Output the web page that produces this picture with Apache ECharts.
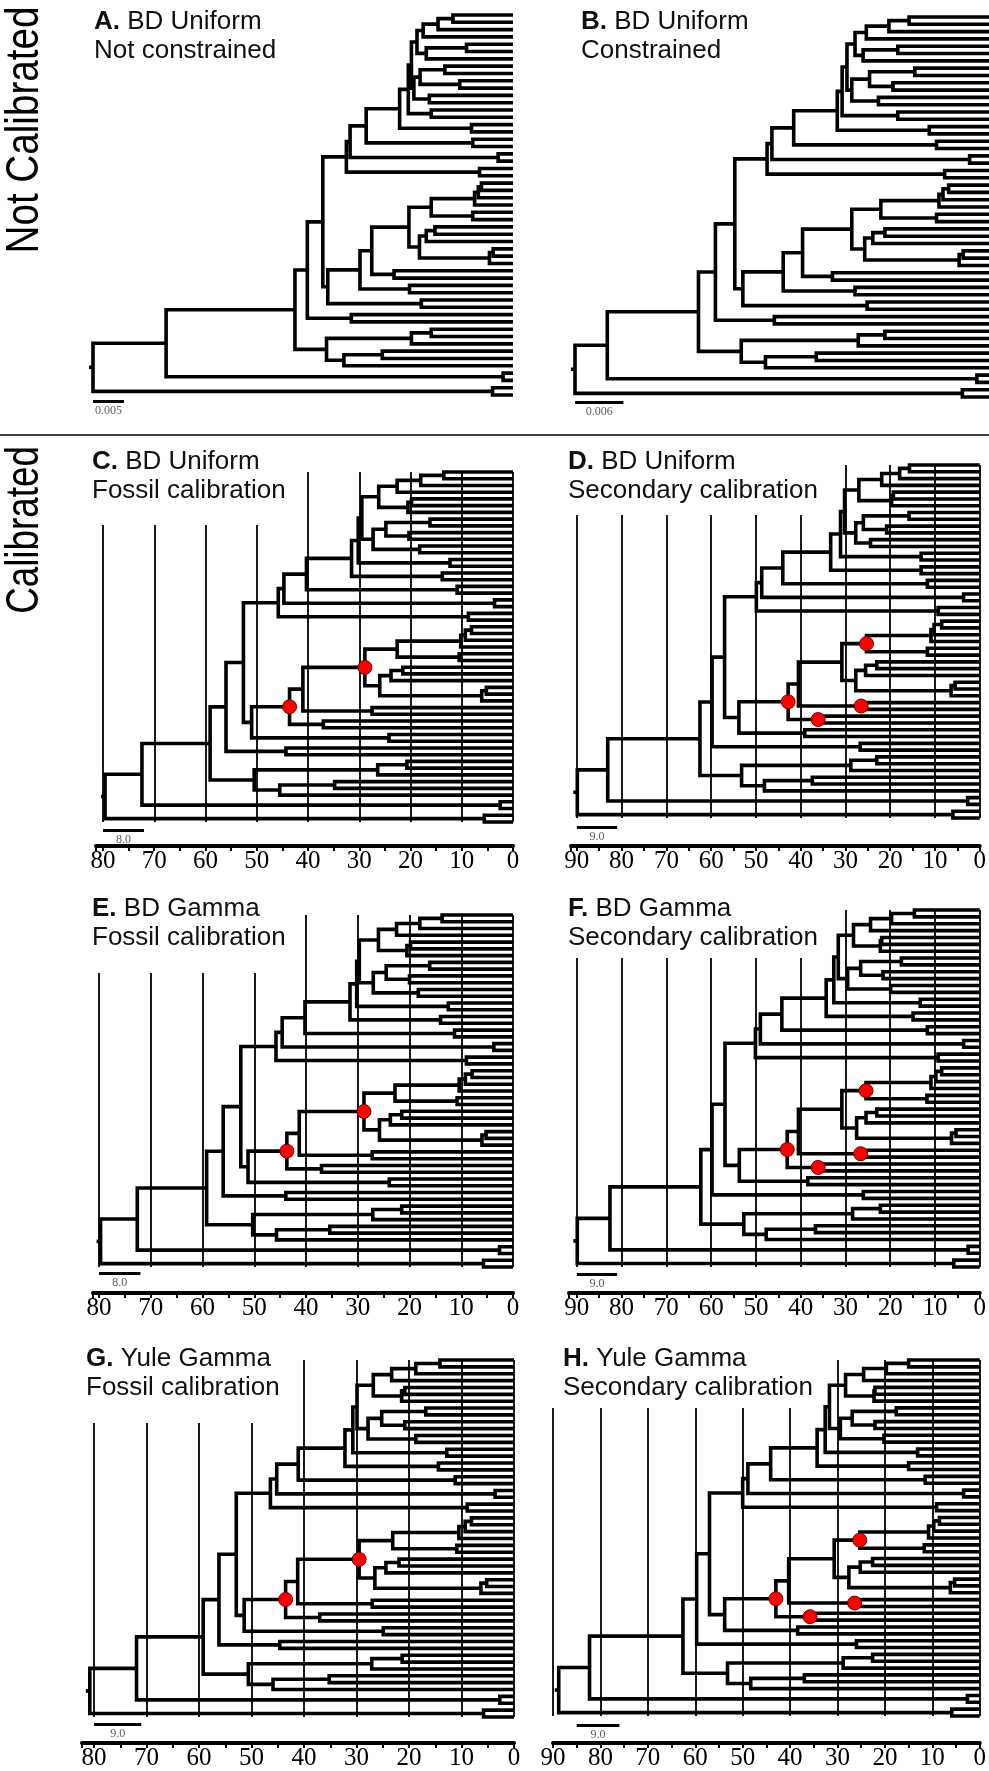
<!DOCTYPE html>
<html><head><meta charset="utf-8">
<script src="https://cdn.jsdelivr.net/npm/echarts@6/dist/echarts.min.js"></script>
<style>html,body{margin:0;padding:0;background:#fff}#c{width:989px;height:1771px}</style>
</head><body><div id="c"></div>
<script>
// ---------------- DATA ----------------
// Shared topology: internal node = children (top to bottom), '*' = tip
const topology = [
 'root=n72,n5p', 'n72=n59,n2p', 'n59=n56,n50', 'n56=n52,n44m', 'n52=n45a,n51',
 'n45a=n44a,n8p', 'n44a=n40,n3p', 'n40=n31,n10p', 'n31=n29t,n13u', 'n29t=n29b,n12t',
 'n29b=n26t,n27t', 'n26t=n22t,n20t', 'n22t=n17t,*', 'n17t=n13t,*', 'n13t=*,*',
 'n20t=n19t,*', 'n19t=*,*', 'n27t=n25t,n18t', 'n25t=n16t,n20b', 'n16t=*,*',
 'n20b=*,*', 'n18t=*,*', 'n12t=*,*', 'n13u=*,*', 'n10p=*,*',
 'n3p=*,*', 'n8p=*,*', 'n51=n43,n24m', 'n43=n41,n37m', 'n41=n29m,n27m',
 'n29m=n22m,n26m', 'n22m=n10m,n10q', 'n10m=n9m,*', 'n9m=n8m,*', 'n8m=*,*',
 'n10q=*,*', 'n26m=n23m,n6m', 'n23m=n21m,*', 'n21m=*,*', 'n6m=n5m,*',
 'n5m=*,*', 'n27m=*,*', 'n37m=*,*', 'n24m=*,*', 'n44m=*,*',
 'n50=n26b,n45b', 'n26b=n20b2,*', 'n20b2=*,*', 'n45b=n35b,*', 'n35b=*,*',
 'n2p=*,*', 'n5p=*,*'
];
// Node heights (same order as topology) — substitutions/site for A,B; Ma for C-H
const agesA = [0.0678,0.0560,0.0352,0.0332,0.0307,0.0269,0.0263,0.0237,0.0183,0.0169,
 0.0164,0.0155,0.0145,0.0121,0.0097,0.0140,0.0075,0.0160,0.0150,0.0110,
 0.0086,0.0135,0.0132,0.0067,0.0065,0.0024,0.0054,0.0299,0.0247,0.0228,
 0.0168,0.0132,0.0062,0.0056,0.0051,0.0065,0.0151,0.0140,0.0126,0.0038,
 0.0032,0.0192,0.0167,0.0148,0.0261,0.0301,0.0164,0.0132,0.0273,0.0211,0.0016,0.0033];
const agesB = [0.0513,0.0473,0.0360,0.0339,0.0315,0.0275,0.0269,0.0242,0.0188,0.0182,
 0.0176,0.0166,0.0152,0.0124,0.0099,0.0156,0.0113,0.0170,0.0148,0.0092,
 0.0119,0.0137,0.0113,0.0074,0.0065,0.0024,0.0055,0.0305,0.0255,0.0231,
 0.0170,0.0134,0.0062,0.0057,0.0050,0.0065,0.0154,0.0144,0.0129,0.0037,
 0.0032,0.0194,0.0166,0.0151,0.0266,0.0307,0.0162,0.0129,0.0277,0.0214,0.0015,0.0033];
const agesC = [79.6,72.4,59.1,56,52.6,45.8,44.7,40.3,31.5,30.2,29.5,26.2,22.6,18,13.5,20.5,19.8,27.3,24.8,16.2,
 20.3,18.2,12.3,13.8,10.9,3.6,8.7,51,43.6,41,28.9,22.6,10.2,9.3,8.1,10.5,26,23.8,21.5,6.1,
 5.2,27.5,37,24.2,44.3,50.5,26.4,20.7,45.5,34.8,2.5,5.6];
const agesD = [89.9,83.1,62.5,59.8,57,49.9,48.7,44,33.3,31.1,30.2,27,21.9,17.9,15.7,19.7,19.3,27.7,26,15.8,
 20.8,24.4,13.1,13.1,11.7,3.6,9.3,53.8,42.8,40.5,30.8,25.3,10.9,10.2,8.5,11.7,27.7,25.5,23,6.4,
 5.5,26.5,36.1,39.1,26.7,53.2,28.8,23,48.1,37.4,2.7,6];
const agesE = [79.7,72.6,59.2,56,52.6,45.8,44.6,40.2,31.5,30.2,29.7,26,22.5,18,13.7,20.5,19.8,27,24.5,16.1,
 20,18.3,12.5,14,11.3,3.7,9,51.2,43.7,41.3,28.8,22.8,10.4,9.2,7.9,10.8,25.8,23.7,21.5,6,
 5.2,27.2,37,23.9,43.9,50.3,27.1,21.5,45.7,35.4,2.6,5.7];
const agesF = [89.9,82.6,62.3,59.8,56.9,50.1,49,44.2,34.3,32.6,31.6,28.2,24.4,19.7,14.6,22.2,21.9,29.5,26.6,17.5,
 21.6,19.9,13.3,14.9,11.7,3.6,9.3,53.7,43,40.5,30.8,25.4,10.9,9.8,8.5,11.8,27.5,25.4,23,6.3,
 5.3,26.6,36.1,38.4,26,52.7,28.4,22.2,47.7,36.7,2.6,5.8];
const agesG = [80.8,71.9,59.2,56.2,52.9,46.4,45.2,41.1,32.2,30.7,29.9,26.8,23.3,18.7,14.1,21.4,20.8,27.8,25.2,16.8,
 20.8,18.7,12.8,14.4,11.2,3.6,8.9,51.4,43.5,41.2,29.5,23.1,10.5,9.3,8.1,10.9,26.5,24.4,21.9,6.3,
 5.2,27,37,24.9,44.6,50.6,27.1,21.3,45.9,35.2,2.7,5.8];
const agesH = [88.8,82.3,62.6,59.7,57,50,48.9,44.1,34.3,32.6,31.7,28.3,24.5,19.7,15,22.3,22.1,29.4,26.9,17.6,
 22.1,20.2,13.1,15,11.5,3.4,9.1,53.8,43,40.3,30.7,25.3,10.8,9.7,8.5,11.7,27.6,25.2,22.6,6.2,
 5.3,26.4,35.8,38.4,26,53.2,28.8,22.6,48.3,37,2.6,5.9];
// Calibrated nodes (red dots)
const dotsFossil = ['n43','n29m'];
const dotsSecondary = ['n43','n37m','n27m','n22m'];
// Panel texts
const panelLetters = ['A','B','C','D','E','F','G','H'];
const panelModels = ['BD Uniform','BD Uniform','BD Uniform','BD Uniform','BD Gamma','BD Gamma','Yule Gamma','Yule Gamma'];
const panelSubtitles = ['Not constrained','Constrained','Fossil calibration','Secondary calibration',
  'Fossil calibration','Secondary calibration','Fossil calibration','Secondary calibration'];
// Scale bars
const scaleBarLengths = [0.005,0.006,8,9,8,9,9,9];
const scaleBarLabels = ['0.005','0.006','8.0','9.0','8.0','9.0','9.0','9.0'];
// Time-axis ticks (Ma)
const ticks80 = [0,10,20,30,40,50,60,70,80];
const ticks90 = [0,10,20,30,40,50,60,70,80,90];
const rowLabels = ['Not Calibrated','Calibrated'];

// ---------------- LAYOUT ----------------
const panels = [
 {ages:agesA, dots:[], ticks:null, x0:513, left:85, pxPer:420/0.0678, top:15, bot:395, base:425, scaleFrom:0.0678, scaleY:401, tx:94, ty:7},
 {ages:agesB, dots:[], ticks:null, x0:989, left:565, pxPer:414/0.0513, top:17, bot:397, base:425, scaleFrom:0.0513, scaleY:402, tx:581, ty:7},
 {ages:agesC, dots:dotsFossil, ticks:ticks80, x0:513, left:96, pxPer:5.125, top:472, bot:822, base:846, scaleFrom:80, scaleY:830, tx:92, ty:447, oldMin:50, oldTop:525},
 {ages:agesD, dots:dotsSecondary, ticks:ticks90, x0:988, left:571, pxPer:4.567, top:465, bot:818, base:846, scaleFrom:90, scaleY:827, tx:568, ty:447, oldMin:40, oldTop:515},
 {ages:agesE, dots:dotsFossil, ticks:ticks80, x0:513, left:93, pxPer:5.175, top:915, bot:1267, base:1293, scaleFrom:80, scaleY:1273, tx:92, ty:894, oldMin:50, oldTop:973},
 {ages:agesF, dots:dotsSecondary, ticks:ticks90, x0:988, left:569, pxPer:4.567, top:910, bot:1267, base:1293, scaleFrom:90, scaleY:1274, tx:568, ty:894, oldMin:40, oldTop:958},
 {ages:agesG, dots:dotsFossil, ticks:ticks80, x0:514, left:82, pxPer:5.25, top:1360, bot:1717, base:1743, scaleFrom:80, scaleY:1724, tx:86, ty:1344, oldMin:50, oldTop:1423},
 {ages:agesH, dots:dotsSecondary, ticks:ticks90, x0:988, left:553, pxPer:4.833, top:1360, bot:1716, base:1743, scaleFrom:85, scaleY:1725, tx:563, ty:1344, oldMin:40, oldTop:1408}
];

// ---------------- TREE BUILD ----------------
const kids = {}, nodeIndex = {};
topology.forEach((s, i) => { const [n, c] = s.split('='); kids[n] = c.split(','); nodeIndex[n] = i; });
let tipCount = 0;
const nodeY = {}; const internals = [];
function walk(name) {
  const ch = kids[name].map(c => c === '*' ? {tip: true, y: tipCount++} : {tip: false, name: c, y: walk(c)});
  const y = (ch[0].y + ch[ch.length - 1].y) / 2;
  nodeY[name] = y;
  internals.push({name, ch});
  return y;
}
walk('root');
const N = tipCount;

const SANS = '"Liberation Sans", Arial, Helvetica, sans-serif';
const SERIF = '"Liberation Serif", "Times New Roman", serif';
const grids = [], xAxes = [], yAxes = [], series = [], titles = [];

panels.forEach((p, i) => {
  const ageOf = n => p.ages[nodeIndex[n]];
  const yPer = (N - 1) / (p.bot - p.top);
  const yAt = px => (px - p.top) * yPer;
  const xmax = (p.x0 - p.left) / p.pxPer;
  const cal = !!p.ticks;
  grids.push({left: p.left, top: p.top, width: p.x0 - p.left, height: p.base - p.top, containLabel: false});
  xAxes.push({
    gridIndex: i, type: 'value', inverse: true, min: 0, max: xmax, show: cal,
    interval: 10, splitLine: {show: false},
    axisLine: {show: true, onZero: false, lineStyle: {color: '#000', width: 4}},
    axisTick: {show: true, length: 5, lineStyle: {color: '#000', width: 2}},
    minorTick: {show: true, splitNumber: 2, length: 5, lineStyle: {color: '#000', width: 2}},
    axisLabel: {show: true, margin: 3, color: '#000', fontFamily: SERIF, fontSize: 25, showMaxLabel: false,
      formatter: v => (cal && p.ticks.indexOf(Math.round(v)) >= 0 && Math.abs(v - Math.round(v)) < 1e-6) ? String(Math.round(v)) : ''}
  });
  yAxes.push({gridIndex: i, type: 'value', inverse: true, min: 0, max: (p.base - p.top) * yPer, show: false});

  // gridlines
  if (cal) {
    const gl = p.ticks.map(a => {
      const topPx = (a === 0) ? p.top : (a >= p.oldMin ? p.oldTop : p.top);
      return {coords: [[a, yAt(topPx)], [a, N - 1]]};
    });
    series.push({type: 'lines', coordinateSystem: 'cartesian2d', xAxisIndex: i, yAxisIndex: i, silent: true, clip: false,
      lineStyle: {color: '#000', width: 1.8, opacity: 1, curveness: 0}, data: gl, z: 1});
  }
  // tree branches
  const segs = [];
  internals.forEach(nd => {
    const a = ageOf(nd.name);
    const c1 = nd.ch[0], c2 = nd.ch[nd.ch.length - 1];
    const a1 = c1.tip ? 0 : ageOf(c1.name), a2 = c2.tip ? 0 : ageOf(c2.name);
    segs.push({coords: [[a1, c1.y], [a, c1.y], [a, c2.y], [a2, c2.y]]});
  });
  const rootAge = ageOf('root');
  segs.push({coords: [[rootAge + 4 / p.pxPer, nodeY.root], [rootAge, nodeY.root]]});
  series.push({type: 'lines', coordinateSystem: 'cartesian2d', xAxisIndex: i, yAxisIndex: i, polyline: true, silent: true, clip: false,
    lineStyle: {color: '#000', width: 3.6, opacity: 1, cap: 'butt', join: 'miter'}, data: segs, z: 3});
  // scale bar
  const sy = yAt(p.scaleY);
  series.push({type: 'lines', coordinateSystem: 'cartesian2d', xAxisIndex: i, yAxisIndex: i, silent: true, clip: false,
    lineStyle: {color: '#000', width: 3, opacity: 1},
    data: [{coords: [[p.scaleFrom, sy], [p.scaleFrom - scaleBarLengths[i], sy]]}], z: 3});
  series.push({type: 'scatter', xAxisIndex: i, yAxisIndex: i, silent: true, symbolSize: 1, clip: false,
    itemStyle: {color: 'rgba(0,0,0,0)'},
    label: {show: true, position: 'inside', formatter: scaleBarLabels[i], fontFamily: SERIF, fontSize: 12, color: '#333'},
    data: [[p.scaleFrom - scaleBarLengths[i] / 2, yAt(p.scaleY + 10)]], z: 3});
  // calibrated nodes
  if (p.dots.length) {
    series.push({type: 'scatter', xAxisIndex: i, yAxisIndex: i, silent: true, symbolSize: 14, clip: false,
      itemStyle: {color: '#ff0000', borderColor: '#700000', borderWidth: 1, opacity: 1},
      data: p.dots.map(n => [ageOf(n), nodeY[n]]), z: 5});
  }
  titles.push({left: p.tx, top: p.ty, padding: 0,
    text: '{b|' + panelLetters[i] + '.} ' + panelModels[i] + '\n' + panelSubtitles[i],
    textStyle: {fontFamily: SANS, fontSize: 26, fontWeight: 'normal', color: '#111', lineHeight: 29,
      rich: {b: {fontFamily: SANS, fontSize: 26, fontWeight: 'bold', color: '#111', lineHeight: 29}}}});
});

const LABEL_FONT = '46px "Liberation Sans", Arial, sans-serif';
const chart = echarts.init(document.getElementById('c'), null, {renderer: 'canvas'});
chart.setOption({
  animation: false,
  backgroundColor: '#fff',
  title: titles,
  grid: grids, xAxis: xAxes, yAxis: yAxes, series: series,
  graphic: [
    {type: 'line', shape: {x1: 0, y1: 435, x2: 989, y2: 435}, style: {stroke: '#000', lineWidth: 1.5}},
    {type: 'text', x: 25, y: 130, rotation: Math.PI / 2, scaleX: 0.84,
      style: {text: rowLabels[0], font: LABEL_FONT, fill: '#000', align: 'center', verticalAlign: 'middle'}},
    {type: 'text', x: 25, y: 530, rotation: Math.PI / 2, scaleX: 0.8,
      style: {text: rowLabels[1], font: LABEL_FONT, fill: '#000', align: 'center', verticalAlign: 'middle'}}
  ]
});
</script></body></html>
